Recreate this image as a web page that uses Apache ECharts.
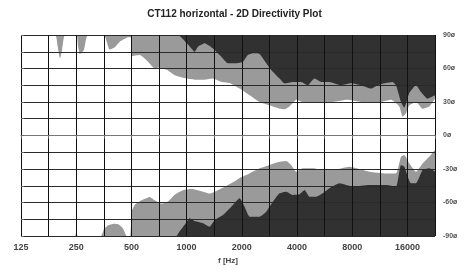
<!DOCTYPE html>
<html>
<head>
<meta charset="utf-8">
<style>
body { margin: 0; background: #fff; }
#chart { width: 469px; height: 270px; }
</style>
<script src="https://cdn.jsdelivr.net/npm/echarts@6/dist/echarts.min.js"></script>
</head>
<body>
<div id="chart"></div>
<script>
// boundaries of the -6 dB (gray) and -12 dB (dark) regions
const topGrayFreq = [125, 192, 198, 204, 209, 217, 251, 256, 262, 268, 276, 289, 354, 381, 406, 432, 466, 478, 497, 501, 556, 616, 670, 699, 776, 861, 997, 1107, 1255, 1392, 1547, 1716, 1946, 2205, 2500, 2834, 3212, 3420, 3640, 3961, 4301, 4876, 5529, 6265, 7532, 8944, 10140, 11494, 13025, 14450, 15063, 15725, 16388, 17825, 19363, 21050, 22627];
const topGrayDeg = [90, 90, 80, 69, 76, 90, 90, 80, 73, 74, 77, 90, 90, 77, 79, 84, 87, 88, 88, 71, 72, 66, 60, 61, 59, 54, 51, 50, 50, 51, 48, 47, 42, 36, 30, 27, 24, 23.5, 26, 32, 30, 30, 29, 30, 32, 30, 29, 30, 32, 26, 17, 20, 27, 30, 24, 26, 33];

const topDarkFreq = [125, 898, 997, 1062, 1107, 1153, 1255, 1392, 1547, 1680, 1866, 2028, 2159, 2299, 2500, 2719, 2954, 3212, 3420, 3795, 4216, 4579, 4980, 5419, 6013, 6960, 7889, 8944, 10140, 11011, 11975, 13288, 13875, 14763, 15388, 16388, 17825, 18975, 20600, 22627];
const topDarkDeg = [90, 90, 83, 78, 75, 79.5, 82.6, 78, 70.6, 64.7, 64.7, 66, 72, 73.6, 73, 64.7, 57, 51, 46.7, 48, 48, 45, 51, 48, 48, 45, 46.7, 45, 42, 45, 46.7, 48, 45, 30, 25, 38, 45, 39, 33, 36];

const bottomGrayFreq = [125, 246, 251, 255, 341, 354, 372, 401, 427, 449, 472, 493, 502, 522, 568, 630, 670, 729, 792, 861, 956, 1062, 1204, 1336, 1482, 1612, 1828, 1946, 2205, 2500, 2834, 3212, 3494, 3719, 3961, 4301, 4876, 5529, 6265, 7723, 9924, 12238, 13875, 14763, 15388, 16388, 17825, 19363, 21050, 22627];
const bottomGrayDeg = [-90, -90, -79, -90, -90, -84, -80.6, -79, -79.7, -83, -90, -90, -68, -62, -58, -55, -58, -61, -59, -53, -49, -48, -50, -52, -49, -46, -41, -38, -34, -29.4, -26.4, -23.5, -22.8, -26.4, -32.4, -29.4, -29.4, -31, -31, -28, -32.4, -34, -34, -19, -17.5, -25, -32.4, -25, -19, -13];

const bottomDarkFreq = [125, 880, 906, 976, 1040, 1107, 1229, 1336, 1422, 1578, 1753, 1946, 2071, 2205, 2500, 2719, 2954, 3212, 3494, 3795, 4127, 4395, 4678, 5088, 5529, 6013, 6815, 8050, 9924, 12238, 13875, 14763, 15388, 16738, 17825, 19363, 21050, 22627];
const bottomDarkDeg = [-90, -90, -87, -80, -74, -76.6, -78.6, -81.7, -75.7, -71.2, -63.8, -56.2, -63.8, -72.7, -72.7, -68.2, -59.3, -51.8, -50.3, -53.3, -52.7, -48.8, -54.8, -54.8, -51.8, -47.3, -42.8, -45.8, -44.3, -44.3, -45.8, -26.4, -28, -42.8, -42.8, -31, -29.4, -32.4];

const baseFreq = 125;   // left edge of the octave axis
const octaves = 7.5;

const toOct = f => Math.log2(f / baseFreq);
const pairs = (fs, ds) => fs.map((f, i) => [toOct(f), ds[i]]);

function band(fs, ds, color, origin, z) {
  return {
    type: 'line',
    data: pairs(fs, ds),
    symbol: 'none',
    smooth: 0.15,
    lineStyle: { opacity: 0 },
    areaStyle: { color: color, opacity: 1, origin: origin },
    z: z,
    silent: true
  };
}

const chart = echarts.init(document.getElementById('chart'), null, { renderer: 'canvas' });
chart.setOption({
  animation: false,
  backgroundColor: '#fff',
  title: {
    text: 'CT112 horizontal - 2D Directivity Plot',
    left: 'center',
    top: 4,
    textStyle: { fontFamily: 'Liberation Sans', fontSize: 10, fontWeight: 'bold', color: '#222' }
  },
  grid: { left: 21, right: 34, top: 35, bottom: 34, outerBoundsMode: 'none' },
  xAxis: {
    type: 'value',
    min: 0,
    max: octaves,
    interval: 0.5,
    z: 5,
    name: 'f [Hz]',
    nameLocation: 'middle',
    nameGap: 21,
    nameTextStyle: { fontFamily: 'Liberation Sans', fontSize: 8, fontWeight: 'bold', color: '#444' },
    axisLine: { show: true, lineStyle: { color: '#777', width: 1 } },
    axisTick: { show: true, length: 3, lineStyle: { color: '#666' } },
    axisLabel: {
      margin: 7,
      fontFamily: 'Liberation Sans', fontSize: 9, fontWeight: 'bold', color: '#444',
      formatter: v => Number.isInteger(v) ? String(baseFreq * Math.pow(2, v)) : ''
    },
    splitLine: { show: true, lineStyle: { color: '#111', width: 1 } }
  },
  yAxis: {
    type: 'value',
    position: 'right',
    min: -90,
    max: 90,
    interval: 15,
    z: 5,
    axisLine: { show: false },
    axisTick: { show: true, length: 3, lineStyle: { color: '#666' } },
    axisLabel: {
      margin: 8,
      fontFamily: 'Liberation Sans', fontSize: 7, fontWeight: 'bold', color: '#555',
      formatter: v => v % 30 === 0 ? v + 'ø' : ''
    },
    splitLine: { show: true, lineStyle: { color: '#2a2a2a', width: 1 } }
  },
  series: [
    band(topGrayFreq, topGrayDeg, '#9a9a9a', 'end', 1),
    band(topDarkFreq, topDarkDeg, '#313131', 'end', 2),
    band(bottomGrayFreq, bottomGrayDeg, '#9a9a9a', 'start', 1),
    band(bottomDarkFreq, bottomDarkDeg, '#313131', 'start', 2)
  ]
});
</script>
</body>
</html>
